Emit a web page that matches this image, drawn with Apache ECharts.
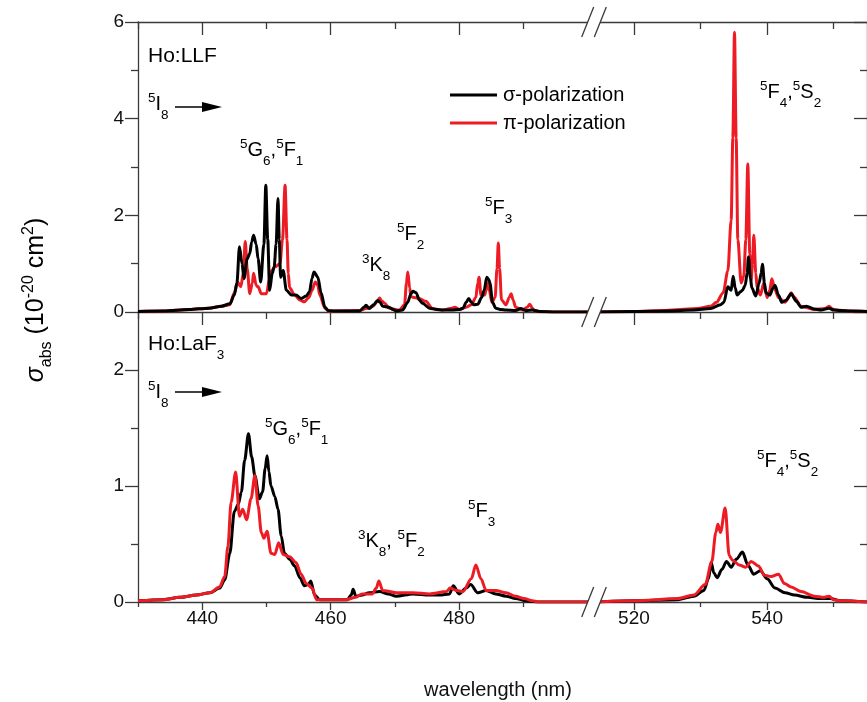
<!DOCTYPE html>
<html><head><meta charset="utf-8">
<script src="https://cdn.jsdelivr.net/npm/echarts@6/dist/echarts.min.js"></script>
<style>html,body{margin:0;padding:0;background:#fff}#c{width:867px;height:702px}</style>
</head><body><div id="c"></div>
<script>
// ---------- data (wavelength nm, cross-section 1e-20 cm^2) ----------
const llfSigmaA = [[430,0.01],[434,0.02],[438,0.05],[441,0.08],[443,0.12],[444.3,0.17],[445.0,0.35],[445.4,0.6],[445.8,1.35],[446.2,1.0],[446.5,0.69],[447.0,1.1],[447.4,1.21],[447.7,1.45],[448.0,1.59],[448.4,1.4],[448.7,1.1],[449.1,0.62],[449.6,1.4],[449.9,2.62],[450.2,1.5],[450.5,0.45],[450.9,0.8],[451.2,0.93],[451.5,1.4],[451.8,2.35],[452.0,1.5],[452.2,0.72],[452.6,0.86],[453.1,0.45],[453.9,0.35],[454.6,0.35],[455.4,0.28],[456.2,0.33],[456.7,0.42],[457.1,0.7],[457.4,0.83],[458.0,0.72],[458.5,0.4],[459.1,0.1],[459.6,0.03],[460.5,0.02],[464.5,0.02],[465.2,0.1],[465.5,0.14],[466.0,0.07],[466.7,0.15],[467.3,0.24],[467.7,0.2],[468.1,0.12],[469.1,0.1],[469.7,0.05],[470.2,0.02],[471.2,0.04],[472.0,0.2],[472.5,0.38],[472.8,0.43],[473.3,0.4],[473.8,0.25],[474.3,0.18],[475.4,0.08],[476.5,0.05],[477.4,0.04],[478.9,0.04],[480.0,0.05],[480.6,0.08],[481.1,0.2],[481.5,0.28],[481.9,0.2],[482.3,0.15],[482.9,0.16],[483.5,0.3],[483.9,0.45],[484.3,0.72],[484.6,0.68],[484.8,0.6],[485.2,0.2],[485.7,0.08],[486.5,0.05],[487.3,0.04],[488.8,0.03],[489.6,0.07],[490.4,0.03],[491.4,0.04],[492.5,0.01],[495,0.0],[501,0.0]];
const llfPiA = [[430,0.01],[434,0.02],[438,0.05],[441,0.08],[443,0.12],[444.3,0.15],[445.0,0.4],[445.5,0.62],[446.0,0.52],[446.4,0.8],[446.7,1.46],[447.0,0.9],[447.4,0.38],[447.8,0.6],[448.0,0.8],[448.4,0.55],[448.7,0.52],[449.2,0.38],[450.0,0.38],[450.5,0.7],[450.8,0.86],[451.3,0.93],[452.1,1.0],[452.5,1.5],[452.9,2.62],[453.2,1.5],[453.4,0.8],[453.6,0.5],[454.4,0.35],[455.2,0.25],[455.9,0.21],[456.6,0.3],[457.1,0.45],[457.6,0.62],[458.0,0.55],[458.3,0.35],[459.1,0.08],[459.8,0.02],[464.5,0.03],[465.5,0.07],[466.6,0.12],[467.3,0.22],[467.6,0.29],[468.0,0.22],[468.4,0.18],[469.1,0.08],[470.7,0.04],[471.5,0.15],[471.8,0.6],[472.0,0.83],[472.3,0.5],[472.5,0.32],[473.0,0.3],[473.8,0.28],[474.8,0.22],[475.9,0.07],[477.4,0.04],[478.6,0.07],[479.4,0.1],[480.0,0.05],[481.1,0.1],[481.9,0.15],[482.6,0.3],[482.9,0.6],[483.1,0.72],[483.4,0.35],[484.0,0.35],[484.4,0.6],[484.7,0.45],[485.1,0.2],[485.6,0.3],[485.9,0.9],[486.1,1.43],[486.3,0.9],[486.6,0.25],[487.3,0.15],[487.8,0.3],[488.1,0.38],[488.4,0.25],[488.8,0.1],[489.9,0.04],[490.6,0.1],[491.0,0.16],[491.4,0.08],[491.7,0.03],[492.5,0.01],[495,0],[501,0]];
const llfSigmaB = [[514,0.0],[520,0.01],[525,0.02],[529,0.04],[531.5,0.07],[533.0,0.15],[533.5,0.2],[534.1,0.52],[534.6,0.45],[534.9,0.74],[535.2,0.5],[535.5,0.35],[536.0,0.42],[536.3,0.45],[536.7,0.55],[537.0,0.8],[537.2,1.14],[537.5,0.7],[537.7,0.5],[538.3,0.33],[538.8,0.6],[539.1,0.8],[539.3,0.99],[539.6,0.6],[539.8,0.4],[540.4,0.35],[540.9,0.5],[541.2,0.55],[541.7,0.35],[542.2,0.2],[542.9,0.25],[543.6,0.38],[544.4,0.22],[545.1,0.1],[545.9,0.12],[547.1,0.06],[548.1,0.04],[549.3,0.08],[550.0,0.04],[551.0,0.03],[552.5,0.02],[555,0.01]];
const llfPiB = [[514,0.0],[520,0.01],[524.7,0.03],[527,0.05],[529.5,0.07],[531.5,0.12],[532.4,0.2],[533.4,0.4],[534.1,0.85],[534.6,1.9],[534.85,3.6],[535.1,5.79],[535.35,3.6],[535.6,1.5],[536.1,0.6],[536.5,0.75],[536.8,1.5],[537.1,3.06],[537.4,1.2],[537.6,0.65],[537.8,1.0],[538.0,1.59],[538.3,0.8],[538.5,0.5],[539.0,0.35],[539.5,0.6],[540.0,0.3],[540.4,0.45],[540.7,0.69],[541.2,0.45],[541.7,0.3],[542.7,0.2],[543.3,0.32],[543.6,0.4],[544.1,0.3],[545.1,0.12],[547.1,0.05],[548.7,0.07],[549.3,0.12],[549.8,0.06],[550.5,0.04],[552,0.02],[555,0.01]];

const lafSigmaA = [[430,0.01],[433.9,0.02],[436.5,0.04],[439.1,0.06],[441.2,0.08],[442.7,0.12],[443.5,0.19],[444.3,0.42],[445.0,0.78],[445.6,0.84],[446.1,0.95],[446.6,1.22],[447.2,1.45],[447.7,1.25],[448.2,1.09],[448.9,0.89],[449.4,0.95],[449.8,1.15],[450.1,1.26],[450.4,1.12],[450.7,1.0],[451.3,0.91],[451.8,0.8],[452.3,0.57],[452.8,0.42],[453.6,0.37],[454.4,0.31],[455.2,0.21],[455.9,0.14],[456.5,0.15],[456.9,0.18],[457.5,0.06],[458.3,0.02],[462.6,0.02],[463.2,0.06],[463.5,0.11],[463.9,0.05],[464.9,0.06],[466,0.08],[467.6,0.09],[469,0.07],[470.2,0.05],[472.8,0.07],[475.4,0.06],[477,0.06],[478.5,0.07],[479.1,0.14],[480.0,0.07],[481.1,0.12],[481.8,0.15],[482.9,0.08],[484.2,0.1],[485.7,0.07],[487.3,0.05],[488.8,0.03],[490.4,0.01],[492.5,0],[501,0]];
const lafPiA = [[430,0.01],[434,0.02],[436.5,0.04],[439.1,0.06],[441.2,0.08],[442.7,0.13],[443.5,0.22],[444.0,0.48],[444.5,0.86],[445.2,1.12],[445.8,0.74],[446.3,0.8],[446.9,0.71],[447.6,0.89],[448.2,1.09],[448.7,0.83],[449.2,0.6],[449.6,0.55],[450.1,0.61],[450.7,0.42],[451.3,0.41],[451.9,0.51],[452.6,0.41],[453.6,0.39],[454.6,0.34],[455.4,0.24],[456.2,0.16],[457.1,0.12],[457.8,0.02],[462.4,0.02],[463.9,0.04],[464.9,0.07],[466.5,0.07],[467.1,0.12],[467.5,0.18],[468.1,0.1],[470.2,0.08],[472.8,0.08],[475.4,0.07],[478.0,0.09],[478.6,0.12],[479.6,0.1],[480.6,0.09],[481.9,0.2],[482.6,0.32],[483.4,0.2],[484.2,0.1],[485.7,0.1],[487.3,0.08],[488.8,0.05],[490.1,0.03],[491.4,0.01],[492.5,0],[501,0]];
const lafSigmaB = [[514,0],[520,0.01],[526.6,0.02],[529.0,0.05],[530.5,0.1],[531.2,0.2],[531.6,0.34],[532.0,0.25],[532.5,0.21],[533.2,0.28],[533.9,0.35],[534.6,0.3],[535.4,0.37],[536.3,0.43],[537.1,0.32],[538.0,0.24],[539.0,0.27],[540.0,0.2],[541.2,0.12],[542.7,0.08],[544.1,0.06],[546.1,0.04],[548.0,0.03],[549.5,0.03],[551.0,0.01],[555,0]];
const lafPiB = [[514,0],[520,0.01],[526.6,0.03],[529.0,0.06],[530.7,0.15],[531.7,0.35],[532.3,0.6],[532.6,0.67],[533.0,0.6],[533.7,0.81],[534.3,0.4],[534.8,0.36],[535.8,0.32],[536.8,0.3],[537.6,0.35],[538.7,0.31],[539.6,0.23],[540.6,0.22],[541.7,0.24],[542.6,0.16],[543.6,0.13],[545.1,0.09],[547.1,0.05],[548.5,0.04],[549.3,0.05],[550,0.02],[551,0.01],[555,0]];

// ticks
const leftMajorX = [440, 460, 480];
const leftMinorX = [430, 450, 470, 490];
const rightMajorX = [520, 540];
const rightMinorX = [530, 550];
const topMajorY = [0, 2, 4, 6];
const topMinorY = [1, 3, 5];
const botMajorY = [0, 1, 2];
const botMinorY = [0.5, 1.5];
const seriesNames = ['σ-polarization', 'π-polarization'];

// ---------- layout ----------
const FONT = "'Liberation Sans', Arial, sans-serif";
const AX = '#3a3a3a';
const RED = '#ed1c24';
const L0 = 138, BRK = 594, RW = 280, T0 = 22, H = 290;
const LEN_MAJ = 13, LEN_MIN = 7;

const xAxes = [], yAxes = [];
function xa(g, min, max, pos, ticks, len, inside, showLine, labels) {
  xAxes.push({
    type: 'value', gridIndex: g, min, max, position: pos,
    axisLine: {show: showLine, onZero: false, lineStyle: {color: AX, width: 1.3}},
    axisTick: {show: true, customValues: ticks, length: len, inside, lineStyle: {color: AX, width: 1.3}},
    axisLabel: labels ? {show: true, customValues: labels, margin: 7, fontSize: 19, color: '#111', fontFamily: FONT} : {show: false},
    splitLine: {show: false}
  });
  return xAxes.length - 1;
}
function ya(g, max, pos, ticks, len, inside, showLine, labels) {
  yAxes.push({
    type: 'value', gridIndex: g, min: 0, max, position: pos,
    axisLine: {show: showLine, onZero: false, lineStyle: {color: AX, width: 1.3}},
    axisTick: {show: true, customValues: ticks, length: len, inside, lineStyle: {color: AX, width: 1.3}},
    axisLabel: labels ? {show: true, customValues: labels, margin: 14, fontSize: 19, color: '#111', fontFamily: FONT} : {show: false},
    splitLine: {show: false}
  });
  return yAxes.length - 1;
}

const grids = [
  {left: L0, top: T0, width: BRK - L0, height: H},
  {left: BRK, top: T0, width: RW, height: H},
  {left: L0, top: T0 + H, width: BRK - L0, height: H},
  {left: BRK, top: T0 + H, width: RW, height: H}
];

// top-left
const xTL = xa(0, 430, 501, 'bottom', leftMajorX, LEN_MAJ, false, true);
xa(0, 430, 501, 'bottom', leftMinorX, LEN_MIN, false, false);
xa(0, 430, 501, 'top', leftMajorX, LEN_MAJ, true, true);
xa(0, 430, 501, 'top', leftMinorX, LEN_MIN, true, false);
// top-right
const xTR = xa(1, 514, 555, 'bottom', rightMajorX, LEN_MAJ, false, true);
xa(1, 514, 555, 'bottom', rightMinorX, LEN_MIN, false, false);
xa(1, 514, 555, 'top', rightMajorX, LEN_MAJ, true, true);
xa(1, 514, 555, 'top', rightMinorX, LEN_MIN, true, false);
// bottom-left
const xBL = xa(2, 430, 501, 'bottom', leftMajorX, 8, false, true, leftMajorX);
xa(2, 430, 501, 'bottom', leftMinorX, 5, false, false);
// bottom-right
const xBR = xa(3, 514, 555, 'bottom', rightMajorX, 8, false, true, rightMajorX);
xa(3, 514, 555, 'bottom', rightMinorX, 5, false, false);

const yTL = ya(0, 6, 'left', topMajorY, LEN_MAJ, false, true, topMajorY);
ya(0, 6, 'left', topMinorY, LEN_MIN, false, false);
const yTR = ya(1, 6, 'right', topMajorY, LEN_MAJ, true, true);
ya(1, 6, 'right', topMinorY, LEN_MIN, true, false);
const yBL = ya(2, 2.5, 'left', botMajorY, LEN_MAJ, false, true, botMajorY);
ya(2, 2.5, 'left', botMinorY, LEN_MIN, false, false);
const yBR = ya(3, 2.5, 'right', botMajorY, LEN_MAJ, true, true);
ya(3, 2.5, 'right', botMinorY, LEN_MIN, true, false);

function line(name, data, xi, yi, color, z) {
  return {type: 'line', name, data, xAxisIndex: xi, yAxisIndex: yi, showSymbol: false, symbol: 'none',
    smooth: 0.3, smoothMonotone: 'x', clip: true, z,
    lineStyle: {color, width: 3}, itemStyle: {color}, emphasis: {disabled: true}, animation: false};
}
const series = [
  line(seriesNames[1], llfPiA, xTL, yTL, RED, 2),
  line(seriesNames[0], llfSigmaA, xTL, yTL, '#000', 3),
  line(seriesNames[1], llfPiB, xTR, yTR, RED, 2),
  line(seriesNames[0], llfSigmaB, xTR, yTR, '#000', 3),
  line(seriesNames[0], lafSigmaA, xBL, yBL, '#000', 2),
  line(seriesNames[1], lafPiA, xBL, yBL, RED, 3),
  line(seriesNames[0], lafSigmaB, xBR, yBR, '#000', 2),
  line(seriesNames[1], lafPiB, xBR, yBR, RED, 3)
];

// ---------- annotations ----------
const MAIN = 20, SMALL = 13.5;
function rich(main, small) {
  small = small || SMALL;
  return {
    n: {fontSize: main, lineHeight: 34, fontFamily: FONT, fill: '#000', verticalAlign: 'middle'},
    sup: {fontSize: small, lineHeight: 13, fontFamily: FONT, fill: '#000', verticalAlign: 'top', padding: [4, 0, 0, 0]},
    sub: {fontSize: small, lineHeight: 13, fontFamily: FONT, fill: '#000', verticalAlign: 'top', padding: [21, 0, 0, 0]}
  };
}
function label(x, y, text, main) {
  return {type: 'text', x, y, z: 50, silent: true,
    style: {text, rich: rich(main || MAIN), fontSize: main || MAIN, fontFamily: FONT, fill: '#000', align: 'left', verticalAlign: 'middle'}};
}
function arrow(x, y) {
  return [
    {type: 'line', z: 50, silent: true, shape: {x1: x, y1: y, x2: x + 30, y2: y}, style: {stroke: '#000', lineWidth: 1.5}},
    {type: 'polygon', z: 50, silent: true, shape: {points: [[x + 27, y - 5], [x + 47, y], [x + 27, y + 5]]}, style: {fill: '#000'}}
  ];
}
function brk(cx, cy) {
  const dx = 6, dy = 15, s = 6.3;
  return [
    {type: 'polygon', z: 60, silent: true, shape: {points: [[cx - s - dx * 0.3, cy + dy * 0.3], [cx - s + dx * 0.3, cy - dy * 0.3], [cx + s + dx * 0.3, cy - dy * 0.3], [cx + s - dx * 0.3, cy + dy * 0.3]]}, style: {fill: '#fff'}},
    {type: 'line', z: 61, silent: true, shape: {x1: cx - s - dx, y1: cy + dy, x2: cx - s + dx, y2: cy - dy}, style: {stroke: AX, lineWidth: 1.3}},
    {type: 'line', z: 61, silent: true, shape: {x1: cx + s - dx, y1: cy + dy, x2: cx + s + dx, y2: cy - dy}, style: {stroke: AX, lineWidth: 1.3}}
  ];
}

const titleRich = {
  i: {fontSize: 25, lineHeight: 36, fontFamily: FONT, fontStyle: 'italic', fill: '#000', verticalAlign: 'middle'},
  n: {fontSize: 25, lineHeight: 36, fontFamily: FONT, fill: '#000', verticalAlign: 'middle'},
  sup: {fontSize: 16, lineHeight: 15, fontFamily: FONT, fill: '#000', verticalAlign: 'top', padding: [3, 0, 0, 0]},
  sub: {fontSize: 16, lineHeight: 15, fontFamily: FONT, fill: '#000', verticalAlign: 'top', padding: [21, 0, 0, 0]}
};

const graphics = [
  label(148, 56, '{n|Ho:LLF}', 21),
  label(148, 104, '{sup|5}{n|I}{sub|8}'),
  ...arrow(175, 107),
  label(240, 150, '{sup|5}{n|G}{sub|6}{n|,}{sup|5}{n|F}{sub|1}'),
  label(362, 265, '{sup|3}{n|K}{sub|8}'),
  label(397, 234, '{sup|5}{n|F}{sub|2}'),
  label(485, 208, '{sup|5}{n|F}{sub|3}'),
  label(760, 92, '{sup|5}{n|F}{sub|4}{n|,}{sup|5}{n|S}{sub|2}'),
  label(148, 344, '{n|Ho:LaF}{sub|3}', 21),
  label(148, 392, '{sup|5}{n|I}{sub|8}'),
  ...arrow(175, 392),
  label(265, 429, '{sup|5}{n|G}{sub|6}{n|,}{sup|5}{n|F}{sub|1}'),
  label(358, 541, '{sup|3}{n|K}{sub|8}{n|, }{sup|5}{n|F}{sub|2}'),
  label(468, 511, '{sup|5}{n|F}{sub|3}'),
  label(757, 461, '{sup|5}{n|F}{sub|4}{n|,}{sup|5}{n|S}{sub|2}'),
  ...brk(BRK, T0), ...brk(BRK, T0 + H), ...brk(BRK, T0 + 2 * H),
  {type: 'text', x: 498, y: 690, z: 50, silent: true,
    style: {text: 'wavelength (nm)', fontSize: 20, fontFamily: FONT, fill: '#111', align: 'center', verticalAlign: 'middle'}},
  {type: 'text', x: 36, y: 300, rotation: Math.PI / 2, z: 50, silent: true,
    style: {text: '{i|σ}{sub|abs}{n| (10}{sup|-20}{n| cm}{sup|2}{n|)}', align: 'center', verticalAlign: 'middle', rich: titleRich}}
];

const chart = echarts.init(document.getElementById('c'), null, {renderer: 'canvas'});
chart.setOption({
  animation: false,
  backgroundColor: '#fff',
  grid: grids,
  xAxis: xAxes,
  yAxis: yAxes,
  legend: {
    data: seriesNames.map(n => ({name: n, icon: 'rect'})), orient: 'vertical', left: 445, top: 79, itemWidth: 47, itemHeight: 3, itemGap: 6,
    selectedMode: false,
    textStyle: {fontSize: 20, fontFamily: FONT, color: '#000', lineHeight: 22, padding: [0, 0, 0, 1]}
  },
  series,
  graphic: graphics
});
</script>
</body></html>
